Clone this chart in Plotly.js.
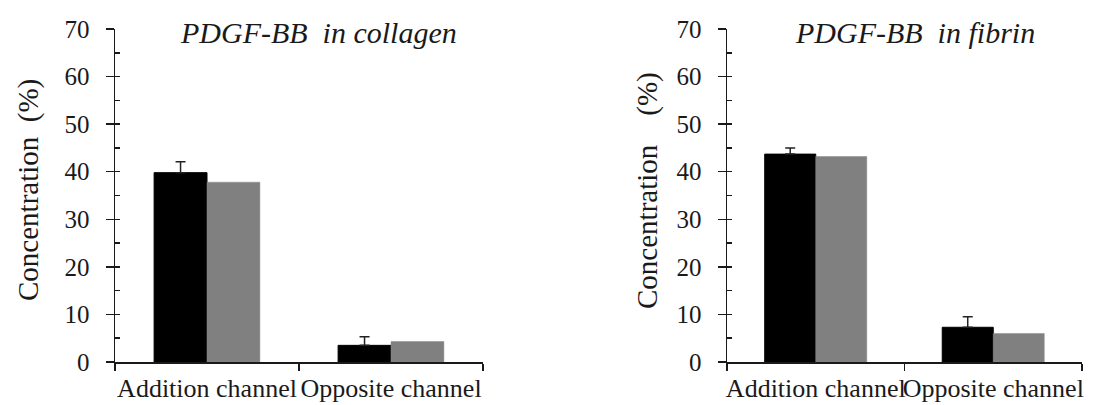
<!DOCTYPE html>
<html>
<head>
<meta charset="utf-8">
<script src="https://cdn.plot.ly/plotly-3.0.1.min.js"></script>
<style>html,body{margin:0;padding:0;background:#fff;}#chart{width:1104px;height:405px;}</style>
</head>
<body>
<div id="chart"></div>
<script>
// ---- data ----
const categories = ["Addition channel", "Opposite channel"];

const collagenBlack = [39.8, 3.5];
const collagenBlackErr = [2.3, 1.8];
const collagenGray = [37.8, 4.3];

const fibrinBlack = [43.7, 7.3];
const fibrinBlackErr = [1.3, 2.2];
const fibrinGray = [43.2, 6.0];

const panelTitles = ["PDGF-BB\u00a0 in collagen", "PDGF-BB\u00a0 in fibrin"];
const yTitles = ["Concentration\u00a0 (%)", "Concentration\u00a0\u00a0\u00a0 (%)"];
const yTickVals = [0, 10, 20, 30, 40, 50, 60, 70];

// ---- styling ----
const FONT = "'Liberation Serif', 'Times New Roman', Times, 'DejaVu Serif', serif";
const TXT = "#1a1a1a";

function blackTrace(y, err, xa, ya) {
  return {
    type: "bar", x: categories, y: y, xaxis: xa, yaxis: ya,
    marker: {color: "#000000", line: {color: "#000", width: 1}},
    error_y: {type: "data", array: err, arrayminus: err.map(() => 0), symmetric: false,
              color: "#222", thickness: 1.5, width: 5},
    showlegend: false, hoverinfo: "skip"
  };
}
function grayTrace(y, xa, ya) {
  return {
    type: "bar", x: categories, y: y, xaxis: xa, yaxis: ya,
    marker: {color: "#808080", line: {color: "#8a8a8a", width: 0.5}},
    showlegend: false, hoverinfo: "skip"
  };
}
// invisible helper so the inner-tick overlay axes get drawn
function helper(xa, ya) {
  return {type: "scatter", x: [categories[0]], y: [0], xaxis: xa, yaxis: ya,
          mode: "none", showlegend: false, hoverinfo: "skip"};
}

const data = [
  blackTrace(collagenBlack, collagenBlackErr, "x", "y"),
  grayTrace(collagenGray, "x", "y"),
  blackTrace(fibrinBlack, fibrinBlackErr, "x2", "y2"),
  grayTrace(fibrinGray, "x2", "y2"),
  helper("x", "y3"),
  helper("x2", "y4")
];

const yDom = [1 - 362/405, 1 - 29/405];
const xDom1 = [115/1104, 483/1104];
const xDom2 = [727/1104, 1082/1104];

function xAxis(dom, anchor) {
  return {
    domain: dom, anchor: anchor, type: "category", tickangle: 0,
    showline: true, linecolor: "#1a1a1a", linewidth: 1.5,
    ticks: "outside", ticklen: 7, tickwidth: 1.5, tickcolor: "#1a1a1a",
    tickson: "boundaries", showgrid: false, zeroline: false, ticklabelstandoff: 2,
    tickfont: {family: FONT, size: 26, color: TXT}, fixedrange: true
  };
}
function yAxis(anchor) {
  return {
    domain: yDom, anchor: anchor, range: [0, 70],
    tickvals: yTickVals, ticktext: yTickVals.map(String),
    showline: true, linecolor: "#1a1a1a", linewidth: 1.5,
    ticks: "outside", ticklen: 8, tickwidth: 1.5, tickcolor: "#1a1a1a",
    showgrid: false, zeroline: false, ticklabelstandoff: 11,
    tickfont: {family: FONT, size: 25, color: TXT}, fixedrange: true
  };
}
function yInner(anchor, over) {
  return {
    domain: yDom, anchor: anchor, overlaying: over, side: "left", range: [0, 70],
    dtick: 5, tick0: 0, ticks: "inside", ticklen: 5, tickwidth: 1.5, tickcolor: "#1a1a1a",
    showticklabels: false, showline: false, showgrid: false, zeroline: false, fixedrange: true
  };
}

const layout = {
  width: 1104, height: 405,
  margin: {l: 0, r: 0, t: 0, b: 0},
  paper_bgcolor: "#fff", plot_bgcolor: "rgba(0,0,0,0)",
  barmode: "group", bargap: 0.425, bargroupgap: 0,
  xaxis: xAxis(xDom1, "y"),
  yaxis: yAxis("x"),
  xaxis2: xAxis(xDom2, "y2"),
  yaxis2: yAxis("x2"),
  yaxis3: yInner("x", "y"),
  yaxis4: yInner("x2", "y2"),
  annotations: [
    {text: panelTitles[0], xref: "paper", yref: "paper", x: 318/1104, y: 1 - 32/405,
     xanchor: "center", yanchor: "middle", showarrow: false,
     font: {family: FONT, size: 30, color: TXT, style: "italic"}},
    {text: panelTitles[1], xref: "paper", yref: "paper", x: 915/1104, y: 1 - 32/405,
     xanchor: "center", yanchor: "middle", showarrow: false,
     font: {family: FONT, size: 30, color: TXT, style: "italic"}},
    {text: yTitles[0], xref: "paper", yref: "paper", x: 28/1104, y: 1 - 190/405,
     xanchor: "center", yanchor: "middle", textangle: -90, showarrow: false,
     font: {family: FONT, size: 29, color: TXT}},
    {text: yTitles[1], xref: "paper", yref: "paper", x: 647/1104, y: 1 - 191/405,
     xanchor: "center", yanchor: "middle", textangle: -90, showarrow: false,
     font: {family: FONT, size: 29, color: TXT}}
  ]
};

Plotly.newPlot("chart", data, layout, {staticPlot: true, displayModeBar: false});
</script>
</body>
</html>
